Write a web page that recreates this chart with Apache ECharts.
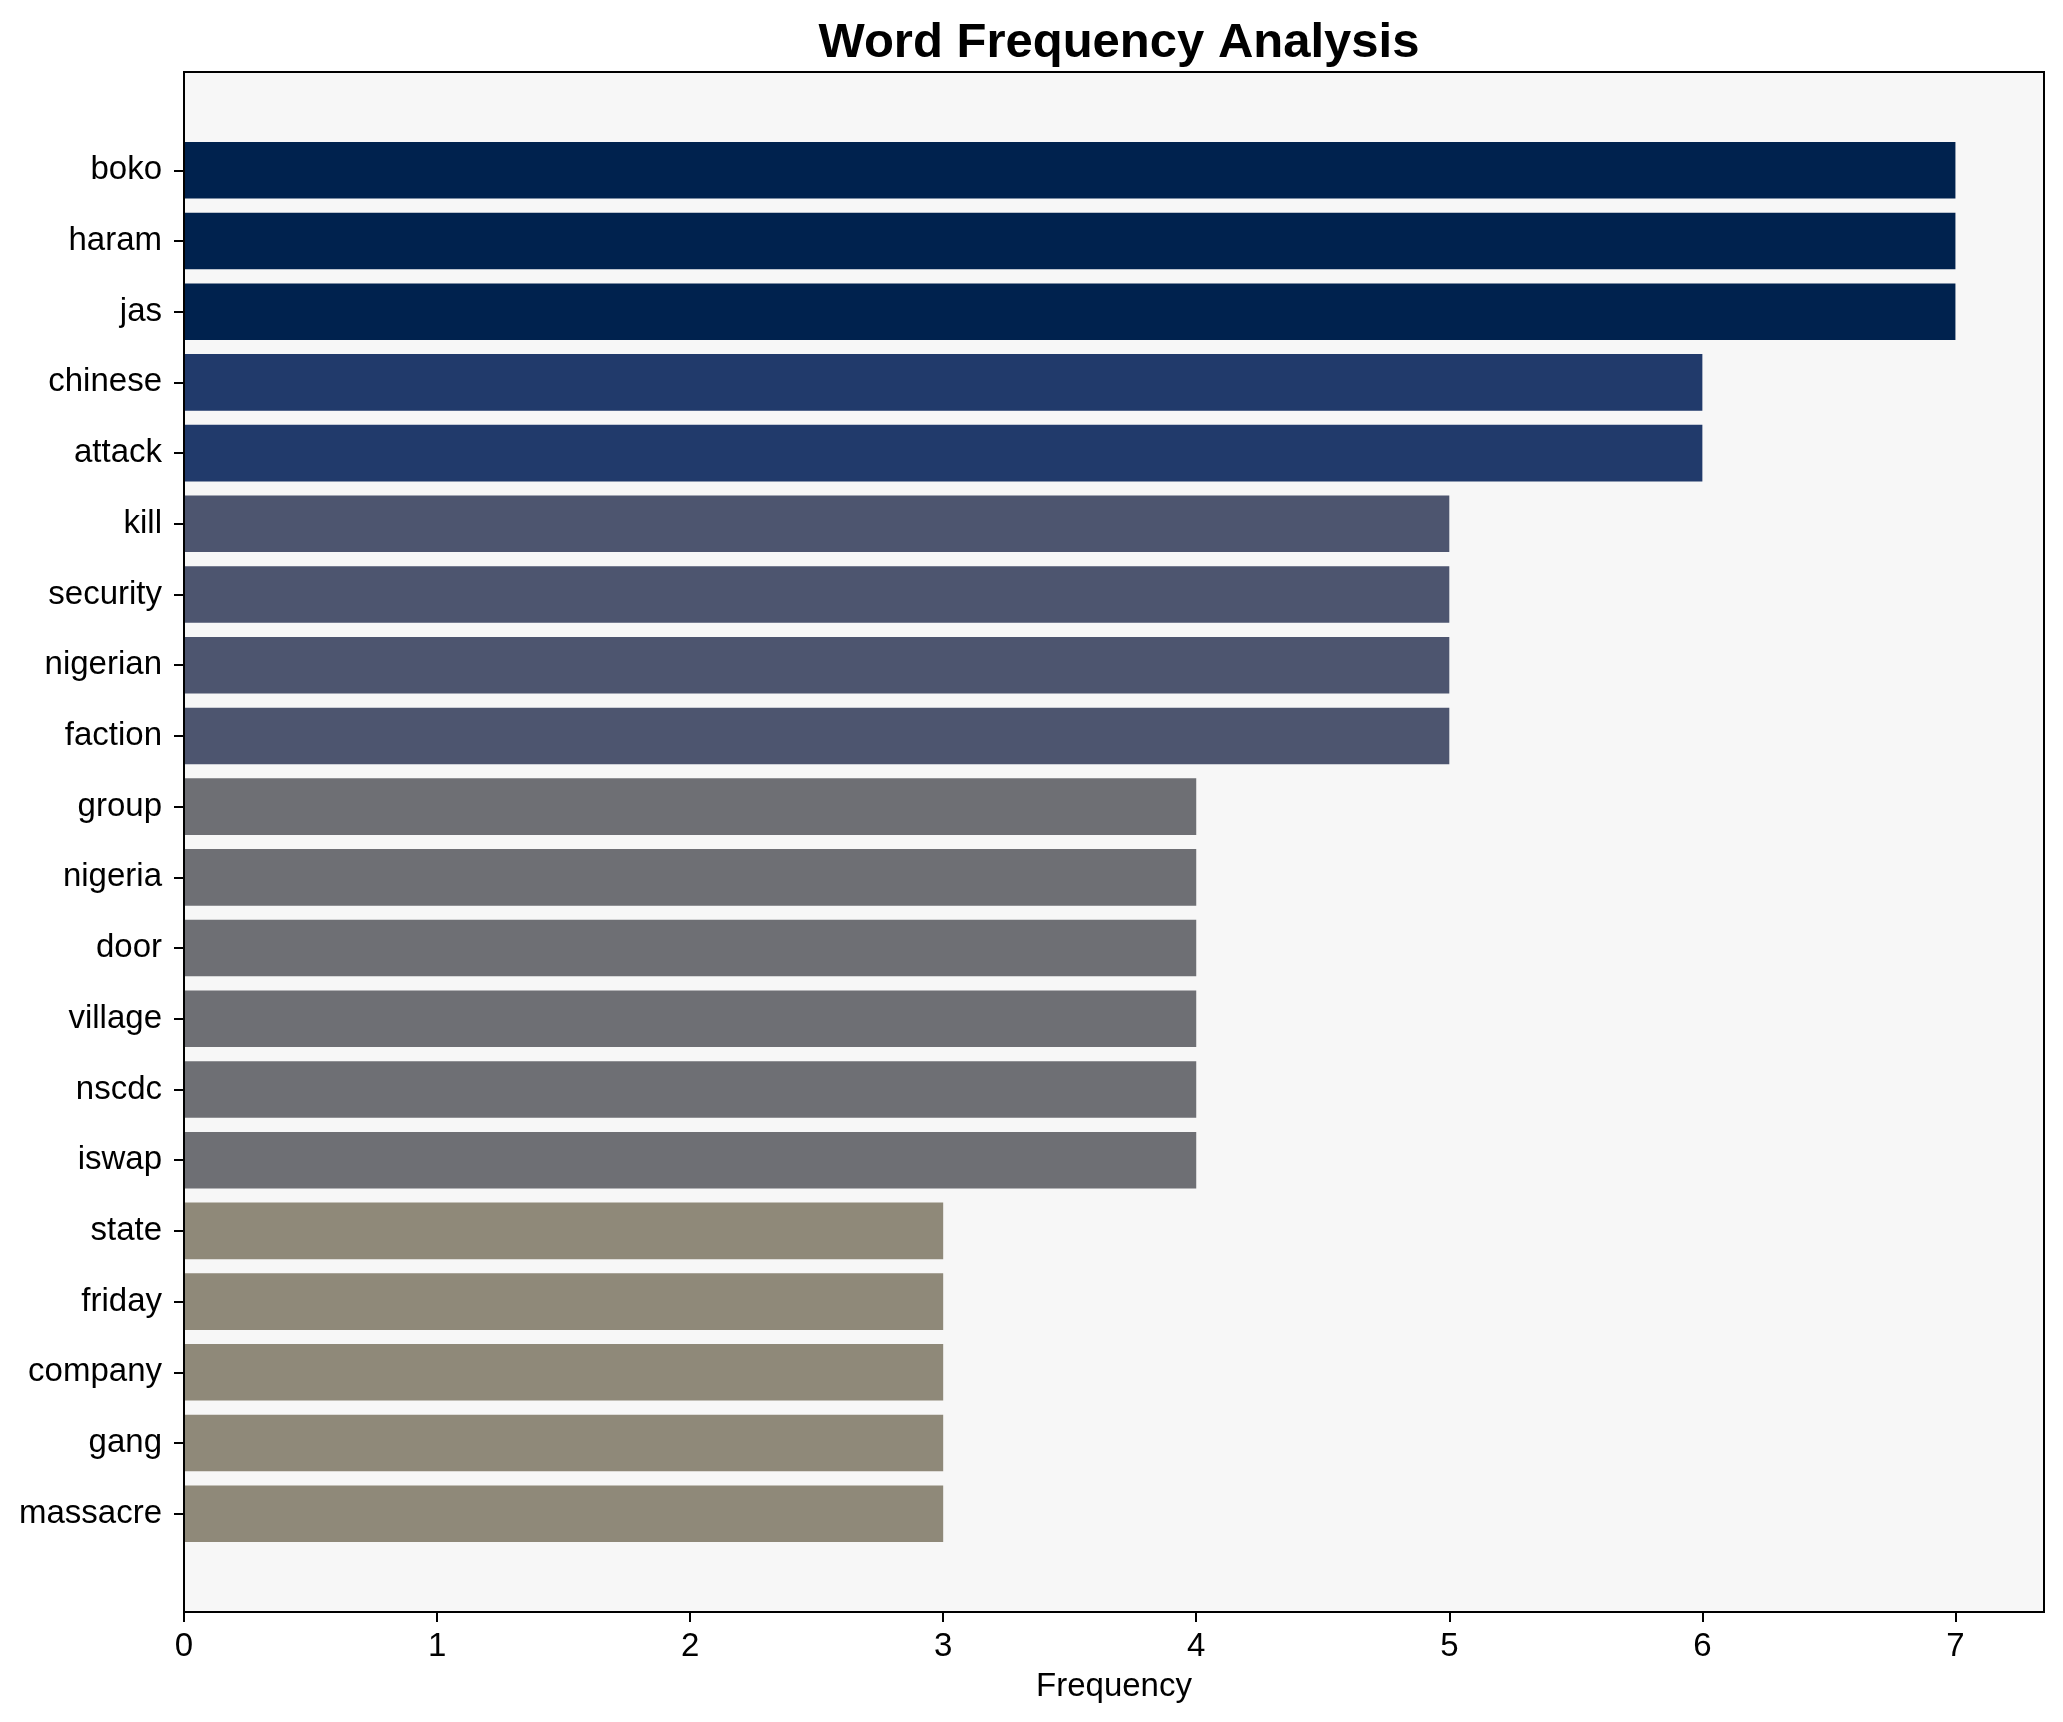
<!DOCTYPE html>
<html>
<head>
<meta charset="utf-8">
<script src="https://cdn.jsdelivr.net/npm/echarts@6/dist/echarts.min.js"></script>
<style>
html, body { margin: 0; padding: 0; background: #ffffff; }
#chart { width: 2063px; height: 1722px; }
</style>
</head>
<body>
<div id="chart"></div>
<script>
// ---- data ----
const categories = ['boko', 'haram', 'jas', 'chinese', 'attack', 'kill', 'security', 'nigerian', 'faction',
  'group', 'nigeria', 'door', 'village', 'nscdc', 'iswap', 'state', 'friday', 'company', 'gang', 'massacre'];
const frequencies = [7, 7, 7, 6, 6, 5, 5, 5, 5, 4, 4, 4, 4, 4, 4, 3, 3, 3, 3, 3];
const xTicks = [0, 1, 2, 3, 4, 5, 6, 7];

// ---- styles / layout ----
const colorByValue = { 7: '#00224E', 6: '#213A6B', 5: '#4D556F', 4: '#6E6F74', 3: '#8F8979' };
const FONT = '"Liberation Sans", Arial, Helvetica, sans-serif';
const plotLeft = 184, plotTop = 72, plotWidth = 1860, plotHeight = 1540;
const xMax = 7.35;
const yPad = 1.39; // matplotlib margin in bar units on each side
const band = plotHeight / (categories.length - 1 + 2 * yPad);
const barsTop = plotTop + (yPad - 0.5) * band;
const barsHeight = categories.length * band;

const chart = echarts.init(document.getElementById('chart'), null, { renderer: 'canvas' });

chart.setOption({
  animation: false,
  backgroundColor: '#ffffff',
  textStyle: { fontFamily: FONT },
  title: {
    text: 'Word Frequency Analysis',
    left: plotLeft + plotWidth / 2,
    top: 14,
    textAlign: 'center',
    textStyle: { fontFamily: FONT, fontSize: 49, fontWeight: 'bold', color: '#000' }
  },
  grid: [
    { left: plotLeft, top: plotTop, width: plotWidth, height: plotHeight,
      show: true, backgroundColor: '#F7F7F7', borderColor: '#000', borderWidth: 2 },
    { left: plotLeft, top: barsTop, width: plotWidth, height: barsHeight, show: false }
  ],
  xAxis: [
    {
      type: 'value', gridIndex: 0, min: 0, max: xMax, interval: 1, z: 5,
      name: 'Frequency', nameLocation: 'middle', nameGap: 58,
      nameTextStyle: { fontFamily: FONT, fontSize: 33, color: '#000' },
      axisLine: { show: true, lineStyle: { color: '#000', width: 2 } },
      axisTick: { show: true, length: 10, inside: false, customValues: xTicks, lineStyle: { color: '#000', width: 2 } },
      axisLabel: { show: true, margin: 18, customValues: xTicks, fontFamily: FONT, fontSize: 33, color: '#000' },
      splitLine: { show: false }
    },
    {
      type: 'value', gridIndex: 1, min: 0, max: xMax, show: false, splitLine: { show: false }
    }
  ],
  yAxis: [
    {
      type: 'value', gridIndex: 0, min: 0, max: 1, z: 5,
      axisLine: { show: true, onZero: false, lineStyle: { color: '#000', width: 2 } },
      axisTick: { show: false }, axisLabel: { show: false }, splitLine: { show: false }
    },
    {
      type: 'category', gridIndex: 1, data: categories, inverse: true, z: 5,
      axisLine: { show: false },
      axisTick: { show: true, length: 10, alignWithLabel: true, lineStyle: { color: '#000', width: 2 } },
      axisLabel: { show: true, margin: 22, padding: [4, 0, 0, 0], fontFamily: FONT, fontSize: 33, color: '#000' },
      splitLine: { show: false }
    }
  ],
  series: [
    {
      type: 'bar', xAxisIndex: 1, yAxisIndex: 1, z: 2,
      barCategoryGap: '20%',
      data: frequencies,
      itemStyle: { color: (p) => colorByValue[p.value] }
    }
  ]
});
</script>
</body>
</html>
